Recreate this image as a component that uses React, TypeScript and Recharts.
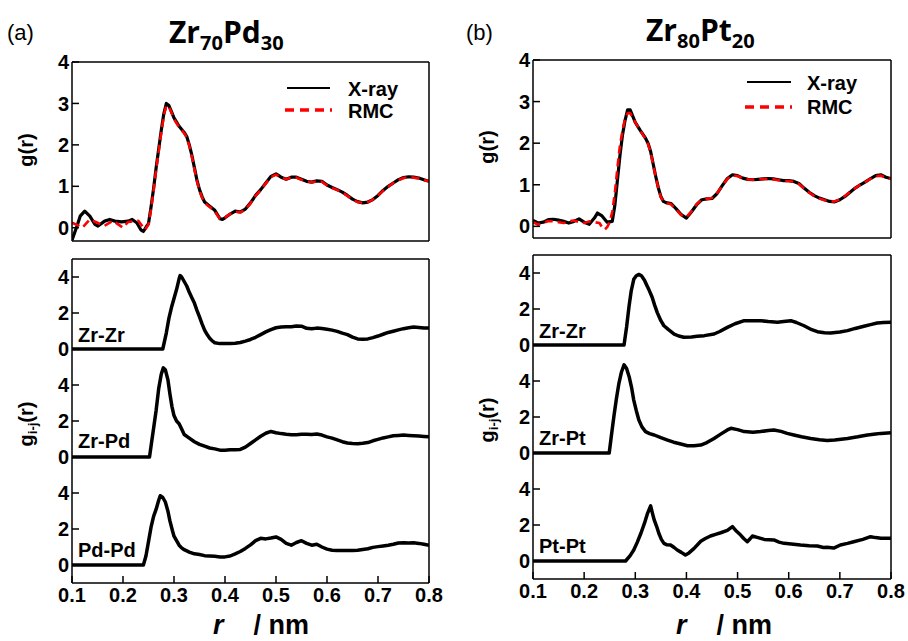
import React from 'react';
import { LineChart, Line, XAxis, YAxis } from 'recharts';

// ---------- x ticks ----------
const xTicks = [0.1, 0.2, 0.3, 0.4, 0.5, 0.6, 0.7, 0.8];
const topYTicks = [0, 1, 2, 3, 4];
const stackYTicks = [0, 2, 4, 6, 8, 10, 12, 14, 16];

// ---------- (a) Zr70Pd30 total g(r) ----------
const rXrayA = [0.100,0.110,0.116,0.125,0.135,0.145,0.151,0.164,0.174,0.184,0.197,0.210,0.218,0.227,0.235,0.240,0.247,0.250,0.255,0.260,0.265,0.270,0.275,0.280,0.285,0.290,0.295,0.300,0.310,0.320,0.325,0.330,0.335,0.340,0.345,0.350,0.355,0.360,0.370,0.380,0.385,0.390,0.395,0.400,0.410,0.420,0.430,0.440,0.450,0.460,0.470,0.480,0.490,0.500,0.510,0.520,0.530,0.540,0.550,0.560,0.570,0.580,0.590,0.600,0.610,0.620,0.630,0.640,0.650,0.660,0.670,0.680,0.690,0.700,0.710,0.720,0.730,0.740,0.750,0.760,0.770,0.780,0.790,0.800];
const gXrayA = [-0.3,0.05,0.28,0.4,0.28,0.08,0.04,0.16,0.2,0.16,0.14,0.16,0.2,0.12,-0.05,-0.09,0.05,0.1,0.5,0.95,1.45,1.9,2.35,2.75,3.0,2.95,2.8,2.65,2.45,2.3,2.2,2.0,1.75,1.45,1.15,0.92,0.75,0.62,0.52,0.42,0.32,0.22,0.2,0.24,0.33,0.4,0.38,0.45,0.6,0.78,0.92,1.08,1.24,1.3,1.22,1.17,1.22,1.22,1.17,1.12,1.1,1.13,1.12,1.03,0.97,0.92,0.86,0.78,0.69,0.63,0.6,0.62,0.68,0.78,0.9,1.0,1.08,1.16,1.21,1.23,1.22,1.2,1.16,1.12];
const rRmcA = [0.100,0.110,0.120,0.135,0.150,0.163,0.180,0.200,0.210,0.230,0.243,0.250,0.255,0.260,0.265,0.270,0.275,0.280,0.285,0.290,0.295,0.300,0.310,0.320,0.325,0.330,0.335,0.340,0.345,0.350,0.355,0.360,0.370,0.380,0.385,0.390,0.395,0.400,0.410,0.420,0.430,0.440,0.450,0.460,0.470,0.480,0.490,0.500,0.510,0.520,0.530,0.540,0.550,0.560,0.570,0.580,0.590,0.600,0.610,0.620,0.630,0.640,0.650,0.660,0.670,0.680,0.690,0.700,0.710,0.720,0.730,0.740,0.750,0.760,0.770,0.780,0.790,0.800];
const gRmcA = [0.12,0.07,0.0,0.2,0.12,0.04,0.17,0.0,0.14,0.17,-0.05,0.08,0.45,0.9,1.4,1.85,2.3,2.7,2.95,2.92,2.78,2.62,2.43,2.28,2.18,1.98,1.72,1.42,1.12,0.9,0.73,0.6,0.5,0.4,0.3,0.22,0.21,0.25,0.33,0.39,0.37,0.44,0.59,0.77,0.91,1.07,1.22,1.28,1.21,1.17,1.21,1.21,1.16,1.12,1.1,1.12,1.11,1.02,0.96,0.91,0.85,0.77,0.68,0.62,0.6,0.62,0.68,0.78,0.89,0.99,1.08,1.15,1.2,1.22,1.21,1.19,1.15,1.12];

// ---------- (b) Zr80Pt20 total g(r) ----------
const rXrayB = [0.100,0.110,0.120,0.130,0.140,0.150,0.160,0.170,0.180,0.190,0.200,0.210,0.220,0.226,0.235,0.245,0.255,0.260,0.265,0.270,0.275,0.280,0.285,0.290,0.295,0.300,0.310,0.320,0.325,0.330,0.335,0.340,0.345,0.350,0.355,0.360,0.370,0.380,0.390,0.400,0.410,0.420,0.430,0.440,0.450,0.460,0.470,0.480,0.490,0.500,0.510,0.520,0.530,0.540,0.550,0.560,0.570,0.580,0.590,0.600,0.610,0.620,0.630,0.640,0.650,0.660,0.670,0.680,0.690,0.700,0.710,0.720,0.730,0.740,0.750,0.760,0.770,0.780,0.790,0.800];
const gXrayB = [0.14,0.08,0.1,0.16,0.17,0.15,0.12,0.08,0.12,0.18,0.1,0.05,0.2,0.32,0.25,0.1,0.12,0.5,1.1,1.7,2.2,2.55,2.8,2.8,2.65,2.5,2.3,2.12,2.0,1.8,1.5,1.2,0.93,0.72,0.6,0.57,0.55,0.42,0.28,0.2,0.35,0.52,0.64,0.66,0.67,0.79,0.98,1.15,1.24,1.22,1.16,1.13,1.12,1.13,1.14,1.15,1.14,1.12,1.1,1.1,1.08,1.03,0.92,0.82,0.74,0.68,0.64,0.6,0.59,0.64,0.72,0.82,0.92,1.0,1.07,1.15,1.22,1.24,1.18,1.15];
const rRmcB = [0.100,0.110,0.120,0.130,0.140,0.150,0.160,0.170,0.180,0.190,0.200,0.210,0.220,0.230,0.235,0.240,0.245,0.250,0.255,0.260,0.265,0.270,0.275,0.280,0.285,0.290,0.295,0.300,0.310,0.320,0.325,0.330,0.335,0.340,0.345,0.350,0.355,0.360,0.370,0.380,0.390,0.400,0.410,0.420,0.430,0.440,0.450,0.460,0.470,0.480,0.490,0.500,0.510,0.520,0.530,0.540,0.550,0.560,0.570,0.580,0.590,0.600,0.610,0.620,0.630,0.640,0.650,0.660,0.670,0.680,0.690,0.700,0.710,0.720,0.730,0.740,0.750,0.760,0.770,0.780,0.790,0.800];
const gRmcB = [0.1,0.04,0.08,0.13,0.12,0.1,0.08,0.12,0.14,0.1,0.08,0.12,0.1,0.08,-0.02,-0.08,-0.02,0.1,0.35,0.8,1.4,1.95,2.3,2.6,2.72,2.72,2.62,2.5,2.3,2.1,1.98,1.78,1.48,1.18,0.92,0.7,0.6,0.56,0.53,0.4,0.27,0.22,0.36,0.53,0.64,0.66,0.68,0.8,0.98,1.14,1.22,1.21,1.15,1.13,1.12,1.13,1.14,1.14,1.13,1.11,1.09,1.09,1.07,1.02,0.91,0.81,0.73,0.67,0.63,0.6,0.6,0.65,0.73,0.83,0.92,1.0,1.07,1.14,1.2,1.22,1.17,1.14];

// ---------- (a) partial g_ij(r) ----------
const rZrZrA = [0.100,0.278,0.285,0.290,0.295,0.300,0.305,0.310,0.312,0.315,0.320,0.325,0.330,0.335,0.340,0.345,0.350,0.355,0.360,0.365,0.370,0.375,0.380,0.390,0.400,0.410,0.420,0.430,0.440,0.450,0.460,0.470,0.480,0.490,0.500,0.510,0.520,0.530,0.540,0.550,0.560,0.570,0.580,0.590,0.600,0.610,0.620,0.630,0.640,0.650,0.660,0.670,0.680,0.690,0.700,0.710,0.720,0.730,0.740,0.750,0.760,0.770,0.780,0.790,0.800];
const gZrZrA = [0,0,0.9,1.7,2.3,2.8,3.3,3.9,4.08,4.0,3.75,3.5,3.15,2.85,2.55,2.15,1.78,1.4,1.05,0.8,0.6,0.45,0.35,0.3,0.3,0.3,0.32,0.36,0.44,0.53,0.65,0.8,0.95,1.08,1.18,1.22,1.24,1.24,1.28,1.27,1.15,1.12,1.16,1.14,1.1,1.05,0.98,0.88,0.8,0.66,0.56,0.54,0.56,0.63,0.72,0.82,0.92,0.99,1.06,1.13,1.18,1.22,1.2,1.17,1.16];
const rZrPd = [0.100,0.252,0.256,0.260,0.265,0.270,0.275,0.279,0.283,0.288,0.292,0.296,0.300,0.305,0.310,0.315,0.320,0.330,0.340,0.350,0.360,0.370,0.380,0.390,0.400,0.410,0.420,0.430,0.440,0.450,0.460,0.470,0.480,0.490,0.500,0.510,0.520,0.530,0.540,0.550,0.560,0.570,0.580,0.590,0.600,0.610,0.620,0.630,0.640,0.650,0.660,0.670,0.680,0.690,0.700,0.710,0.720,0.730,0.740,0.750,0.760,0.770,0.780,0.790,0.800];
const gZrPd = [0,0,0.8,1.6,2.6,3.8,4.6,4.95,4.85,4.3,3.5,2.8,2.3,2.0,1.85,1.55,1.25,1.05,0.85,0.7,0.6,0.5,0.45,0.38,0.38,0.4,0.4,0.42,0.55,0.75,0.95,1.15,1.32,1.42,1.35,1.3,1.26,1.24,1.24,1.26,1.26,1.25,1.28,1.22,1.12,1.05,0.95,0.85,0.78,0.75,0.74,0.76,0.8,0.9,0.98,1.06,1.12,1.18,1.2,1.22,1.2,1.18,1.16,1.14,1.12];
const rPdPd = [0.100,0.240,0.245,0.250,0.255,0.260,0.265,0.270,0.273,0.278,0.283,0.288,0.292,0.297,0.300,0.305,0.310,0.315,0.320,0.330,0.340,0.350,0.360,0.370,0.380,0.390,0.400,0.410,0.420,0.430,0.440,0.450,0.460,0.470,0.480,0.490,0.500,0.510,0.520,0.530,0.540,0.550,0.560,0.570,0.580,0.590,0.600,0.610,0.620,0.630,0.640,0.650,0.660,0.670,0.680,0.690,0.700,0.710,0.720,0.730,0.740,0.750,0.760,0.770,0.780,0.790,0.800];
const gPdPd = [0,0,0.5,1.3,2.1,2.7,3.1,3.6,3.85,3.75,3.5,3.0,2.45,1.9,1.6,1.35,1.1,0.95,0.85,0.72,0.62,0.58,0.52,0.5,0.48,0.45,0.45,0.5,0.62,0.75,0.92,1.12,1.35,1.48,1.45,1.5,1.56,1.42,1.2,1.1,1.25,1.35,1.2,1.1,1.15,1.0,0.88,0.82,0.8,0.8,0.8,0.8,0.82,0.86,0.9,0.98,1.02,1.06,1.1,1.15,1.22,1.24,1.22,1.23,1.2,1.15,1.1];

// ---------- (b) partial g_ij(r) ----------
const rZrZrB = [0.100,0.278,0.283,0.288,0.292,0.297,0.302,0.307,0.312,0.318,0.322,0.327,0.333,0.338,0.343,0.350,0.356,0.365,0.376,0.385,0.395,0.410,0.421,0.435,0.454,0.465,0.480,0.495,0.513,0.530,0.545,0.560,0.578,0.590,0.604,0.615,0.630,0.645,0.656,0.670,0.682,0.700,0.715,0.730,0.747,0.760,0.773,0.785,0.800];
const gZrZrB = [0,0,1.0,2.2,3.0,3.65,3.85,3.92,3.85,3.6,3.35,3.05,2.65,2.2,1.8,1.35,1.07,0.85,0.61,0.5,0.43,0.45,0.48,0.52,0.61,0.75,0.98,1.18,1.35,1.35,1.35,1.3,1.26,1.3,1.35,1.25,1.07,0.85,0.74,0.68,0.67,0.72,0.8,0.92,1.04,1.13,1.22,1.25,1.26];
const rZrPt = [0.100,0.249,0.253,0.258,0.263,0.268,0.273,0.278,0.283,0.288,0.293,0.297,0.302,0.307,0.313,0.320,0.328,0.337,0.350,0.363,0.375,0.389,0.402,0.415,0.428,0.440,0.454,0.467,0.480,0.487,0.500,0.513,0.530,0.545,0.560,0.571,0.585,0.597,0.610,0.625,0.643,0.660,0.675,0.690,0.715,0.735,0.754,0.770,0.780,0.800];
const gZrPt = [0,0,0.9,2.0,3.0,3.87,4.5,4.9,4.7,4.24,3.6,2.94,2.35,1.83,1.45,1.19,1.08,1.0,0.85,0.72,0.6,0.5,0.4,0.4,0.44,0.58,0.81,1.05,1.28,1.37,1.3,1.19,1.15,1.19,1.25,1.28,1.2,1.09,1.0,0.9,0.81,0.74,0.69,0.72,0.81,0.9,1.0,1.06,1.09,1.13];
const rPtPt = [0.100,0.281,0.290,0.297,0.304,0.311,0.318,0.324,0.330,0.334,0.337,0.342,0.346,0.351,0.356,0.362,0.369,0.376,0.382,0.390,0.398,0.405,0.415,0.428,0.437,0.447,0.457,0.467,0.480,0.490,0.498,0.506,0.512,0.519,0.525,0.529,0.540,0.552,0.571,0.581,0.591,0.605,0.623,0.640,0.656,0.668,0.675,0.688,0.701,0.715,0.727,0.745,0.760,0.770,0.780,0.800];
const gPtPt = [0,0,0.3,0.61,1.05,1.54,2.1,2.65,3.06,2.6,2.28,1.9,1.54,1.2,0.98,0.9,0.89,0.75,0.61,0.48,0.33,0.45,0.7,1.1,1.25,1.39,1.48,1.57,1.7,1.91,1.65,1.44,1.25,1.07,1.25,1.39,1.3,1.2,1.17,1.05,0.98,0.95,0.89,0.85,0.83,0.75,0.76,0.72,0.89,0.98,1.07,1.2,1.35,1.3,1.26,1.26];

// stacking offsets for partial curves
const offsetTop = 12;
const offsetMid = 6;
const offsetBot = 0;

const zip = (r: number[], g: number[], off = 0) => r.map((x, i) => ({ r: x, g: g[i] + off }));

const FONT = '"Liberation Sans", Arial, Helvetica, sans-serif';
const tickStyle = { fontSize: 20, fontWeight: 700, fill: '#000', fontFamily: FONT };
const axisStyle = { stroke: '#000', strokeWidth: 1.5 };

type Series = { data: { r: number; g: number }[]; stroke: string; width: number; dash?: string };

function Panel(props: {
  left: number; top: number; width: number; height: number;
  margin: { top: number; right: number; bottom: number; left: number };
  yDomain: [number, number]; yTicks: number[]; yFmt?: (v: number) => string;
  showX: boolean; series: Series[];
}) {
  const { left, top, width, height, margin, yDomain, yTicks, yFmt, showX, series } = props;
  return (
    <div style={{ position: 'absolute', left, top }}>
      <LineChart width={width} height={height} margin={margin}>
        <XAxis xAxisId="b" type="number" dataKey="r" domain={[0.1, 0.8]} ticks={xTicks} allowDataOverflow
          orientation="bottom" height={1} tickSize={-7} tickMargin={12}
          tick={showX ? tickStyle : false} axisLine={axisStyle} tickLine={axisStyle}
          tickFormatter={(v: number) => v.toFixed(1)} />
        <XAxis xAxisId="t" type="number" dataKey="r" domain={[0.1, 0.8]} ticks={xTicks} allowDataOverflow
          orientation="top" height={1} tickSize={-7} tick={false} axisLine={axisStyle} tickLine={axisStyle} />
        <YAxis yAxisId="l" type="number" domain={yDomain} ticks={yTicks} allowDataOverflow width={40}
          tickSize={-7} tickMargin={10} tick={tickStyle} axisLine={axisStyle} tickLine={axisStyle}
          tickFormatter={yFmt} />
        <YAxis yAxisId="r" orientation="right" type="number" domain={yDomain} ticks={yTicks} allowDataOverflow width={1}
          tickSize={-7} tick={false} axisLine={axisStyle} tickLine={axisStyle} />
        {series.map((s, i) => (
          <Line key={i} xAxisId="b" yAxisId="l" data={s.data} dataKey="g" type="linear" dot={false}
            stroke={s.stroke} strokeWidth={s.width} strokeDasharray={s.dash} isAnimationActive={false}
            strokeLinejoin="round" strokeLinecap="butt" />
        ))}
      </LineChart>
    </div>
  );
}

const stackFmt = (v: number) => String(v % 6);

export default function App() {
  const topA: Series[] = [
    { data: zip(rXrayA, gXrayA), stroke: '#000', width: 3.2 },
    { data: zip(rRmcA, gRmcA), stroke: '#ff0000', width: 2.6, dash: '8 5' },
  ];
  const topB: Series[] = [
    { data: zip(rXrayB, gXrayB), stroke: '#000', width: 3.2 },
    { data: zip(rRmcB, gRmcB), stroke: '#ff0000', width: 2.6, dash: '8 5' },
  ];
  const botA: Series[] = [
    { data: zip(rZrZrA, gZrZrA, offsetTop), stroke: '#000', width: 3.5 },
    { data: zip(rZrPd, gZrPd, offsetMid), stroke: '#000', width: 3.5 },
    { data: zip(rPdPd, gPdPd, offsetBot), stroke: '#000', width: 3.5 },
  ];
  const botB: Series[] = [
    { data: zip(rZrZrB, gZrZrB, offsetTop), stroke: '#000', width: 3.5 },
    { data: zip(rZrPt, gZrPt, offsetMid), stroke: '#000', width: 3.5 },
    { data: zip(rPtPt, gPtPt, offsetBot), stroke: '#000', width: 3.5 },
  ];
  const txt = { fontFamily: FONT, fontWeight: 700, fill: '#000' } as const;
  const titleFont = '"Open Sans", "Noto Sans", sans-serif';
  return (
    <div style={{ position: 'absolute', left: 0, top: 0, width: 908, height: 641, background: '#fff', overflow: 'hidden' }}>
      <Panel left={0} top={0} width={454} height={250}
        margin={{ top: 61, right: 24, bottom: 8, left: 32 }}
        yDomain={[-0.32, 4]} yTicks={topYTicks} showX={false} series={topA} />
      <Panel left={0} top={250} width={454} height={391}
        margin={{ top: 8, right: 24, bottom: 57, left: 32 }}
        yDomain={[-1, 17]} yTicks={stackYTicks} yFmt={stackFmt} showX={true} series={botA} />
      <Panel left={454} top={0} width={454} height={250}
        margin={{ top: 59, right: 16, bottom: 11, left: 39 }}
        yDomain={[-0.28, 4]} yTicks={topYTicks} showX={false} series={topB} />
      <Panel left={454} top={250} width={454} height={391}
        margin={{ top: 4, right: 16, bottom: 61, left: 39 }}
        yDomain={[-1, 17]} yTicks={stackYTicks} yFmt={stackFmt} showX={true} series={botB} />

      <svg width={908} height={641} style={{ position: 'absolute', left: 0, top: 0, pointerEvents: 'none' }}>
        {/* panel letters */}
        <text x={7} y={40} fontSize={22} fontFamily={FONT} fill="#000">(a)</text>
        <text x={466} y={40} fontSize={22} fontFamily={FONT} fill="#000">(b)</text>
        {/* titles */}
        <text x={169} y={43} fontSize={30} fontWeight={700} fontFamily={titleFont} fill="#000">
          Zr<tspan fontSize={20} dy={7}>70</tspan><tspan dy={-7}>Pd</tspan><tspan fontSize={20} dy={7}>30</tspan>
        </text>
        <text x={646} y={41} fontSize={30} fontWeight={700} fontFamily={titleFont} fill="#000">
          Zr<tspan fontSize={20} dy={7}>80</tspan><tspan dy={-7}>Pt</tspan><tspan fontSize={20} dy={7}>20</tspan>
        </text>
        {/* y labels */}
        <text transform="translate(33,150) rotate(-90)" textAnchor="middle" fontSize={20} {...txt}>g(r)</text>
        <text transform="translate(494,147) rotate(-90)" textAnchor="middle" fontSize={20} {...txt}>g(r)</text>
        <text transform="translate(33,424) rotate(-90)" textAnchor="middle" fontSize={20} {...txt}>
          g<tspan fontSize={13} dy={4}>i-j</tspan><tspan dy={-4}>(r)</tspan>
        </text>
        <text transform="translate(494,420) rotate(-90)" textAnchor="middle" fontSize={20} {...txt}>
          g<tspan fontSize={13} dy={4}>i-j</tspan><tspan dy={-4}>(r)</tspan>
        </text>
        {/* x labels */}
        <text x={213} y={634} fontSize={27} {...txt}>
          <tspan fontStyle="italic">r</tspan><tspan dx={30}>/ nm</tspan>
        </text>
        <text x={676} y={634} fontSize={27} {...txt}>
          <tspan fontStyle="italic">r</tspan><tspan dx={30}>/ nm</tspan>
        </text>
        {/* legends */}
        <line x1={287} x2={330} y1={88} y2={88} stroke="#000" strokeWidth={2.2} />
        <text x={348} y={96} fontSize={20} {...txt}>X-ray</text>
        <line x1={285} x2={332} y1={110} y2={110} stroke="#ff0000" strokeWidth={3.6} strokeDasharray="9 6" />
        <text x={348} y={118} fontSize={20} {...txt}>RMC</text>
        <line x1={747} x2={791} y1={82} y2={82} stroke="#000" strokeWidth={2.2} />
        <text x={807} y={90} fontSize={20} {...txt}>X-ray</text>
        <line x1={745} x2={792} y1={107} y2={107} stroke="#ff0000" strokeWidth={3.6} strokeDasharray="9 6" />
        <text x={807} y={114} fontSize={20} {...txt}>RMC</text>
        {/* partial labels */}
        <text x={78} y={342} fontSize={20} {...txt}>Zr-Zr</text>
        <text x={78} y={448} fontSize={20} {...txt}>Zr-Pd</text>
        <text x={78} y={557} fontSize={20} {...txt}>Pd-Pd</text>
        <text x={539} y={338} fontSize={20} {...txt}>Zr-Zr</text>
        <text x={539} y={445} fontSize={20} {...txt}>Zr-Pt</text>
        <text x={539} y={553} fontSize={20} {...txt}>Pt-Pt</text>
      </svg>
    </div>
  );
}
